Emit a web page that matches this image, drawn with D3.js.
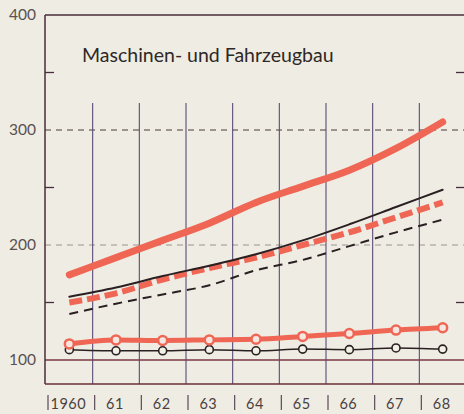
<!DOCTYPE html>
<html>
<head>
<meta charset="utf-8">
<script src="https://cdn.jsdelivr.net/npm/d3@7"></script>
<style>
  body { margin: 0; background: #efece3; }
  svg { display: block; }
</style>
</head>
<body>
<div id="chart"></div>
<script>
// years along the bottom
const years = ['1960', '61', '62', '63', '64', '65', '66', '67', '68'];
const yTicks = [100, 200, 300, 400];
const yMinor = [150, 250, 350];

// index series, 1950 = 100
const redSolid = [174, 189, 204, 219, 237, 251, 265, 284, 307];
const blackSolid = [155, 163, 173, 182, 192, 204, 218, 233, 248];
const redDashed = [150, 158, 170, 180, 189, 200, 211, 224, 237];
const blackDashed = [140, 149, 157, 165, 178, 187, 199, 211, 222];
const redDots = [114, 117.5, 117, 117.5, 118, 120.5, 123, 126, 128];
const blackDots = [109, 108, 108, 109, 108, 109.5, 109, 110.5, 109.5];

const width = 464, height = 414;
const svg = d3.select('#chart').append('svg')
  .attr('width', width)
  .attr('height', height);

const plotLeft = 45, plotTop = 15, plotBottom = 384;

const x = d3.scaleBand()
  .domain(years)
  .range([46, 466])
  .padding(0);
const cx = d => x(d) + x.bandwidth() / 2;

const y = d3.scaleLinear()
  .domain([100, 400])
  .range([360, 15]);

const frame = '#4a2d3a';
const gridV = '#5b4b78';

// dashed grid lines at 200 and 300
svg.append('line')
  .attr('x1', plotLeft).attr('x2', width)
  .attr('y1', y(300)).attr('y2', y(300))
  .attr('stroke', '#4a3a3a').attr('stroke-width', 1)
  .attr('stroke-dasharray', '6,5');
svg.append('line')
  .attr('x1', plotLeft).attr('x2', width)
  .attr('y1', y(200)).attr('y2', y(200))
  .attr('stroke', '#9a9490').attr('stroke-width', 1)
  .attr('stroke-dasharray', '6,5');

// vertical grid
svg.selectAll('.vgrid')
  .data(years.slice(1))
  .enter().append('line')
  .attr('class', 'vgrid')
  .attr('x1', d => x(d)).attr('x2', d => x(d))
  .attr('y1', 103).attr('y2', plotBottom)
  .attr('stroke', gridV).attr('stroke-width', 1.1);

// 100 base line
svg.append('line')
  .attr('x1', plotLeft).attr('x2', width)
  .attr('y1', y(100)).attr('y2', y(100))
  .attr('stroke', '#7a3a45').attr('stroke-width', 1.5);

// frame: top, left, bottom
svg.append('line')
  .attr('x1', plotLeft).attr('x2', width)
  .attr('y1', plotTop).attr('y2', plotTop)
  .attr('stroke', frame).attr('stroke-width', 1.5);
svg.append('line')
  .attr('x1', plotLeft).attr('x2', plotLeft)
  .attr('y1', plotTop).attr('y2', plotBottom)
  .attr('stroke', frame).attr('stroke-width', 1.5);
svg.append('line')
  .attr('x1', plotLeft).attr('x2', width)
  .attr('y1', plotBottom).attr('y2', plotBottom)
  .attr('stroke', '#6a2f35').attr('stroke-width', 1.5);

// minor ticks left and right
svg.selectAll('.mtl')
  .data(yMinor)
  .enter().append('line')
  .attr('x1', plotLeft).attr('x2', plotLeft + 9)
  .attr('y1', d => y(d)).attr('y2', d => y(d))
  .attr('stroke', frame).attr('stroke-width', 1.3);
svg.selectAll('.mtr')
  .data(yMinor)
  .enter().append('line')
  .attr('x1', width - 8).attr('x2', width)
  .attr('y1', d => y(d)).attr('y2', d => y(d))
  .attr('stroke', frame).attr('stroke-width', 1.3);

// y labels
svg.selectAll('.ylab')
  .data(yTicks)
  .enter().append('text')
  .attr('x', 36)
  .attr('y', d => y(d) + 5)
  .attr('text-anchor', 'end')
  .attr('font-family', 'Lato, sans-serif')
  .attr('font-size', '15.5px')
  .attr('fill', '#5a5050')
  .text(d => d);

// x separators and labels
svg.selectAll('.xsep')
  .data(years)
  .enter().append('line')
  .attr('x1', d => x(d) + 2).attr('x2', d => x(d) + 2)
  .attr('y1', 395).attr('y2', 410)
  .attr('stroke', '#5a4a5a').attr('stroke-width', 1.2);
svg.selectAll('.xlab')
  .data(years)
  .enter().append('text')
  .attr('x', d => cx(d) - 1)
  .attr('y', 409)
  .attr('text-anchor', 'middle')
  .attr('font-family', 'Lato, sans-serif')
  .attr('font-size', '14.5px')
  .attr('letter-spacing', '0.5px')
  .attr('fill', '#4a4040')
  .text(d => d);

// title
svg.append('text')
  .attr('x', 82)
  .attr('y', 62)
  .attr('font-family', 'Lato, sans-serif')
  .attr('font-size', '19.5px')
  .attr('fill', '#2e2826')
  .text('Maschinen- und Fahrzeugbau');

const red = '#ef6655';
const ink = '#2a2022';

function drawLine(values, color, w, dash) {
  const line = d3.line()
    .x((d, i) => cx(years[i]))
    .y(d => y(d))
    .curve(d3.curveMonotoneX);
  svg.append('path')
    .datum(values)
    .attr('d', line)
    .attr('fill', 'none')
    .attr('stroke', color)
    .attr('stroke-width', w)
    .attr('stroke-linecap', dash ? 'butt' : 'round')
    .attr('stroke-linejoin', 'round')
    .attr('stroke-dasharray', dash || null);
}

drawLine(blackDashed, ink, 2, '9,6');
drawLine(redDashed, red, 6, '13,5');
drawLine(blackSolid, ink, 2, null);
drawLine(redSolid, red, 7, null);
drawLine(blackDots, ink, 1.5, null);
drawLine(redDots, red, 5, null);

svg.selectAll('.bdot')
  .data(blackDots)
  .enter().append('circle')
  .attr('cx', (d, i) => cx(years[i]))
  .attr('cy', d => y(d))
  .attr('r', 4)
  .attr('fill', '#f3f0e8')
  .attr('stroke', ink)
  .attr('stroke-width', 1.6);

svg.selectAll('.rdot')
  .data(redDots)
  .enter().append('circle')
  .attr('cx', (d, i) => cx(years[i]))
  .attr('cy', d => y(d))
  .attr('r', 4.5)
  .attr('fill', '#f6e6e0')
  .attr('stroke', red)
  .attr('stroke-width', 2.5);
</script>
</body>
</html>
